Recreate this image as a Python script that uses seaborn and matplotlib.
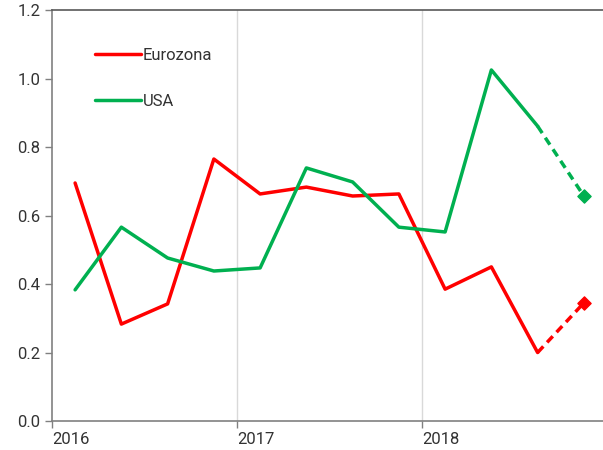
import pandas as pd
import seaborn as sns
import matplotlib.pyplot as plt

# quarterly values 2016Q1 - 2018Q4 (last quarter is a forecast)
quarters = ['2016Q1', '2016Q2', '2016Q3', '2016Q4',
            '2017Q1', '2017Q2', '2017Q3', '2017Q4',
            '2018Q1', '2018Q2', '2018Q3', '2018Q4']
eurozona = [0.695, 0.283, 0.342, 0.765, 0.663, 0.683, 0.657, 0.663, 0.385, 0.45, 0.20, 0.345]
usa = [0.383, 0.566, 0.476, 0.438, 0.447, 0.739, 0.698, 0.566, 0.552, 1.025, 0.861, 0.657]
year_ticks = [2016, 2017, 2018]

# place each quarter in the middle of its slot on a year axis
xpos = [int(q[:4]) + (int(q[-1]) - 0.5) / 4 for q in quarters]
df = pd.DataFrame({'x': xpos, 'Eurozona': eurozona, 'USA': usa})
colors = {'Eurozona': '#FF0000', 'USA': '#00B050'}

sns.set_style('white')
plt.rcParams['font.family'] = ['Roboto', 'DejaVu Sans']
plt.rcParams['text.color'] = '#333333'

fig = plt.figure(figsize=(6.03, 4.5), dpi=100)
ax = fig.add_axes([0.0862, 0.0644, 0.9138, 0.9133])

for name, c in colors.items():
    actual = df.iloc[:-1]
    fcst = df.iloc[-2:]
    sns.lineplot(data=actual, x='x', y=name, color=c, lw=2.5, ax=ax, label=name)
    sns.lineplot(data=fcst, x='x', y=name, color=c, lw=2.5, ls=(0, (2.4, 1.6)), ax=ax)
    ax.scatter(fcst['x'].iloc[-1], fcst[name].iloc[-1], marker='D', s=45,
               color=c, zorder=5)

ax.set_xlim(2016, 2016 + (603 - 52) / 185)
ax.set_ylim(0, 1.2)
ax.set_xticks(year_ticks)
ax.set_xticklabels([str(y) for y in year_ticks])
ax.set_yticks([0, 0.2, 0.4, 0.6, 0.8, 1.0, 1.2])
ax.set_yticklabels(['0.0', '0.2', '0.4', '0.6', '0.8', '1.0', '1.2'])
ax.set_xlabel('')
ax.set_ylabel('')
for x in year_ticks[1:]:
    ax.axvline(x, color='#D9D9D9', lw=1, zorder=0)

for s in ['left', 'bottom']:
    ax.spines[s].set_color('#808080')
    ax.spines[s].set_linewidth(1.2)
ax.spines['top'].set_color('#595959')
ax.spines['top'].set_linewidth(1.2)
ax.spines['right'].set_visible(False)
ax.tick_params(axis='both', direction='out', length=5, width=1, color='#808080',
               labelsize=12, labelcolor='#333333', left=True, bottom=True)
ax.tick_params(axis='x', pad=3)
for lab in ax.get_xticklabels():
    lab.set_horizontalalignment('left')

ax.legend(loc='upper left', bbox_to_anchor=(0.05, 0.945), frameon=False,
          fontsize=12, handlelength=2.8, handletextpad=0.1, labelspacing=1.9)

fig.savefig('out.png', dpi=100)
